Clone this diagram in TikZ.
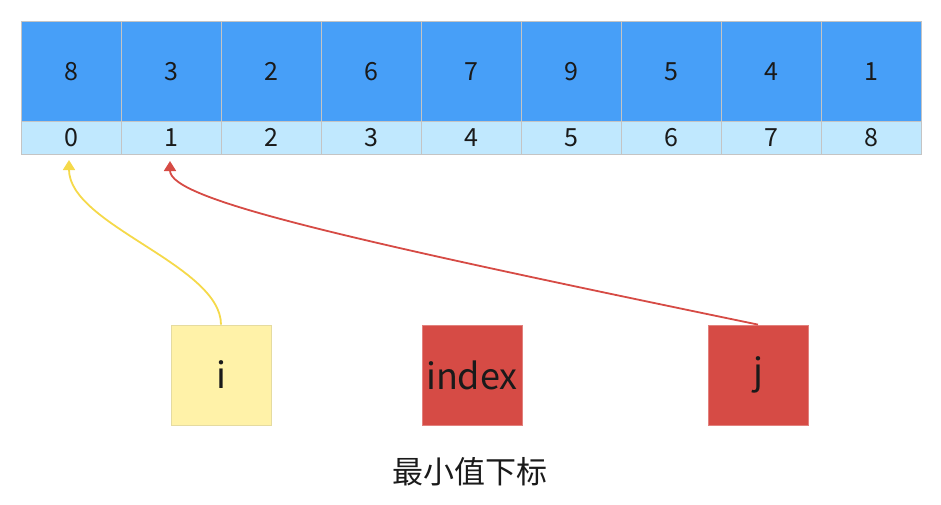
\documentclass[tikz,border=0pt]{standalone}
\usepackage{fontspec}
\setmainfont{Noto Sans CJK SC}
\usetikzlibrary{arrows.meta}
\definecolor{cellblue}{HTML}{479FF8}
\definecolor{idxblue}{HTML}{C0E8FE}
\definecolor{cellgray}{HTML}{C4C4C4}
\definecolor{ybox}{HTML}{FFF2A8}
\definecolor{yline}{HTML}{F5D94A}
\definecolor{rbox}{HTML}{D64B45}
\definecolor{txt}{HTML}{1A1A1A}
\tikzset{
  valcell/.style={draw=cellgray, line width=1pt, fill=cellblue, minimum width=100pt, minimum height=100pt, inner sep=0pt, text=txt, font=\fontsize{25}{28}\selectfont, text height=18pt, text depth=0pt},
  idxcell/.style={draw=cellgray, line width=1pt, fill=idxblue, minimum width=100pt, minimum height=33pt, inner sep=0pt, text=txt, font=\fontsize{25}{28}\selectfont, text height=18pt, text depth=0pt},
  varbox/.style={minimum width=100pt, minimum height=100pt, inner sep=0pt, text=txt, font=\fontsize{36}{40}\selectfont, line width=0.8pt},
  ptr/.style={line width=1.8pt, -{Triangle[width=12pt,length=10pt]}}
}
\begin{document}
\begin{tikzpicture}[x=1pt,y=-1pt]
\useasboundingbox (0,0) rectangle (941,504);
\foreach \v [count=\k from 0] in {8,3,2,6,7,9,5,4,1} {
  \node[valcell] (v\k) at (71+100*\k, 71) {\v};
  \node[idxcell] (x\k) at (71+100*\k, 137.5) {\k};
}
\node[varbox, fill=ybox, draw=ybox!80!gray] (i) at (221,375) {i};
\node[varbox, fill=rbox, draw=rbox!70!white] (idx) at (472,375) {index};
\node[varbox, fill=rbox, draw=rbox!70!white] (j) at (758,375) {j};
\node[text=txt, font=\fontsize{31}{36}\selectfont] (lbl) at (470,472) {最小值下标};
\coordinate (ti) at (69,160);
\coordinate (tj) at (170,161);
\draw[ptr, draw=yline] (i.north) .. controls (221,265) and (69,225) .. (ti);
\draw[ptr, draw=rbox] (j.north) .. controls (350,240) and (170,200) .. (tj);
\end{tikzpicture}
\end{document}
